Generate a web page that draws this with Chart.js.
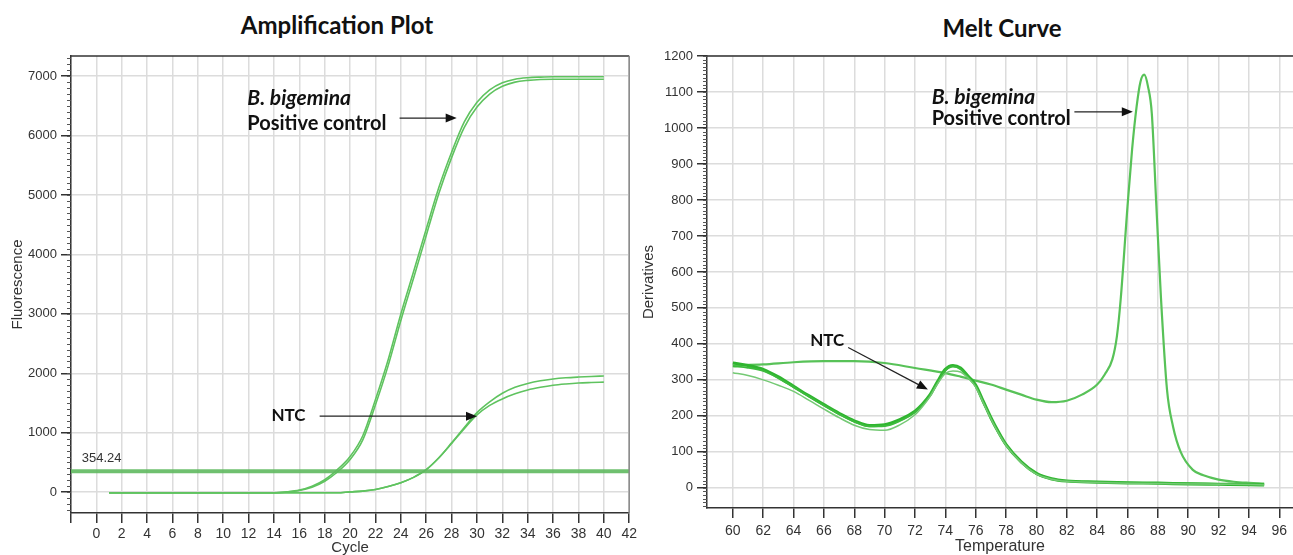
<!DOCTYPE html>
<html>
<head>
<meta charset="utf-8">
<script src="https://cdn.jsdelivr.net/npm/chart.js@4.4.0/dist/chart.umd.min.js"></script>
<style>
  html, body { margin: 0; padding: 0; background: #fff; }
  body { width: 1293px; height: 555px; position: relative; overflow: hidden; }
  .title { position: absolute; top: 11px; font-family: Lato, sans-serif; font-weight: bold; font-size: 24px; line-height: 28px; color: #111; transform: translateX(-50%); white-space: nowrap; }
  #amp-chart { position: absolute; left: 0; top: 0; }
  #melt-chart { position: absolute; left: 640px; top: 0; }
</style>
</head>
<body>
<div class="title" style="left:337px">Amplification Plot</div>
<div class="title" style="left:1002px; top:14px">Melt Curve</div>
<canvas id="amp-chart" width="640" height="555"></canvas>
<canvas id="melt-chart" width="653" height="555"></canvas>
<script>
// ---- Amplification plot data (fluorescence per cycle) ----
const cycles = [1,2,3,4,5,6,7,8,9,10,11,12,13,14,15,16,17,18,19,20,
                21,22,23,24,25,26,27,28,29,30,31,32,33,34,35,36,37,38,39,40];
const posCtrlA = [-10,-10,-10,-10,-10,-10,-10,-10,-10,-10,-10,-10,-10,-10,5,35,100,210,380,600,
                  950,1560,2230,3000,3710,4430,5130,5720,6230,6560,6770,6890,6950,6975,6985,6990,6990,6990,6990,6990];
const posCtrlB = [-10,-10,-10,-10,-10,-10,-10,-10,-10,-10,-10,-10,-10,-10,3,28,85,185,340,550,
                  880,1470,2130,2890,3600,4320,5030,5630,6140,6480,6700,6830,6900,6930,6945,6950,6950,6950,6950,6950];
const ntcAmpA = [-10,-10,-10,-10,-10,-10,-10,-10,-10,-10,-10,-10,-10,-10,-10,-10,-10,-10,-10,5,
                 18,45,95,160,250,380,580,830,1090,1340,1520,1665,1765,1830,1875,1905,1925,1938,1948,1955];
const ntcAmpB = [-10,-10,-10,-10,-10,-10,-10,-10,-10,-10,-10,-10,-10,-10,-10,-10,-10,-10,-10,5,
                 18,45,95,160,250,380,580,820,1070,1300,1460,1570,1655,1720,1765,1800,1822,1838,1846,1852];
const thresholdValue = 354.24;
const ampYTicks = [0,1000,2000,3000,4000,5000,6000,7000];
const ampXTicks = [-2,0,2,4,6,8,10,12,14,16,18,20,22,24,26,28,30,32,34,36,38,40,42];

// ---- Melt curve data (derivative vs temperature) ----
const ntcTemps = [60,61,62,63,64,65,66,67,68,69,70,71,72,72.5,73,73.5,74,74.5,75,75.5,
                  76,76.5,77,77.5,78,79,80,81,82,84,86,88,90,92,94,95];
const ntcMeltA = [347,340,329,308,282,256,231,207,186,173,175,189,213,233,259,296,329,340,333,310,
                  285,240,195,155,120,72,40,25,19,16,14,13,11,10,9,8];
const ntcMeltB = [338,334,325,305,280,254,229,205,184,171,172,186,210,231,258,294,326,337,330,308,
                  283,238,193,153,119,71,39,25,19,16,14,13,12,11,10,9];
const ntcMeltC = [320,312,300,285,268,244,219,195,174,162,160,175,203,226,254,290,318,325,322,305,
                  280,236,192,152,118,70,38,24,18,15,13,12,11,10,9,8];
const posTemps = [60,62,64,66,68,70,72,74,75,76,77,78,79,80,81,82,83,84,84.5,85,
                  85.3,85.55,86,86.3,86.6,86.85,87.1,87.35,87.6,87.9,88.2,88.6,89,89.5,90.3,91,92,93,94,95];
const posMelt = [340,343,349,352,352,347,333,319,309,298,287,273,259,245,238,242,259,287,315,357,
                 421,524,783,940,1060,1128,1148,1115,1040,783,530,273,170,100,50,35,23,17,14,12];
const meltYTicks = [0,100,200,300,400,500,600,700,800,900,1000,1100,1200];
const meltXTicks = [60,62,64,66,68,70,72,74,76,78,80,82,84,86,88,90,92,94,96];

const pts = (xs, ys) => xs.map((x, i) => ({ x: x, y: ys[i] }));

// minor y ticks, plot frame, labels and arrows
const decor = {
  id: 'decor',
  afterDraw(chart, args, o) {
    const ctx = chart.ctx, a = chart.chartArea;
    const xs = chart.scales.x, ys = chart.scales.y;
    ctx.save();
    ctx.strokeStyle = '#555';
    ctx.lineWidth = 1;
    ctx.beginPath();
    for (let v = Math.ceil(ys.min / o.minorStep) * o.minorStep; v <= ys.max; v += o.minorStep) {
      const py = Math.round(ys.getPixelForValue(v)) + 0.5;
      ctx.moveTo(a.left - 4, py);
      ctx.lineTo(a.left, py);
    }
    ctx.stroke();

    ctx.strokeStyle = '#333';
    ctx.lineWidth = 1.5;
    ctx.beginPath();
    ctx.moveTo(a.left, a.top);
    ctx.lineTo(a.right, a.top);
    ctx.stroke();
    if (o.rightBorder) {
      ctx.strokeStyle = '#8a8a8a';
      ctx.beginPath();
      ctx.moveTo(a.right, a.top);
      ctx.lineTo(a.right, a.bottom);
      ctx.stroke();
    }

    o.notes.forEach(n => {
      ctx.font = n.font;
      ctx.fillStyle = n.color || '#111';
      ctx.textAlign = 'left';
      ctx.textBaseline = 'middle';
      ctx.fillText(n.text, xs.getPixelForValue(n.x), ys.getPixelForValue(n.y));
    });

    ctx.strokeStyle = '#222';
    ctx.fillStyle = '#111';
    ctx.lineWidth = 1.2;
    o.arrows.forEach(ar => {
      const x1 = xs.getPixelForValue(ar.from[0]), y1 = ys.getPixelForValue(ar.from[1]);
      const x2 = xs.getPixelForValue(ar.to[0]), y2 = ys.getPixelForValue(ar.to[1]);
      const ang = Math.atan2(y2 - y1, x2 - x1);
      const c = Math.cos(ang), s = Math.sin(ang);
      ctx.beginPath();
      ctx.moveTo(x1, y1);
      ctx.lineTo(x2 - 9 * c, y2 - 9 * s);
      ctx.stroke();
      ctx.beginPath();
      ctx.moveTo(x2, y2);
      ctx.lineTo(x2 - 11 * c + 4.5 * s, y2 - 11 * s - 4.5 * c);
      ctx.lineTo(x2 - 11 * c - 4.5 * s, y2 - 11 * s + 4.5 * c);
      ctx.closePath();
      ctx.fill();
    });
    ctx.restore();
  }
};

const tickFont = { family: 'Liberation Sans', size: 14 };
const gridStyle = { color: '#dcdcdc', lineWidth: 1.5, tickColor: '#333', tickLength: 10, tickWidth: 1.5 };
const line = (data, color, width) => ({
  data: data, borderColor: color, borderWidth: width, pointRadius: 0,
  fill: false, cubicInterpolationMode: 'monotone'
});

new Chart(document.getElementById('amp-chart'), {
  type: 'line',
  data: {
    datasets: [
      line([{ x: -2, y: thresholdValue }, { x: 42, y: thresholdValue }], 'rgba(95,185,95,0.9)', 4),
      line(pts(cycles, posCtrlA), '#5fc35f', 1.6),
      line(pts(cycles, posCtrlB), '#5fc35f', 1.6),
      line(pts(cycles, ntcAmpA), '#5fc35f', 1.6),
      line(pts(cycles, ntcAmpB), '#5fc35f', 1.6)
    ]
  },
  options: {
    responsive: false,
    animation: false,
    layout: { padding: { top: 56, right: 10, left: 0, bottom: 0 } },
    plugins: {
      legend: { display: false },
      tooltip: { enabled: false },
      decor: {
        minorStep: 100,
        rightBorder: true,
        notes: [
          { text: 'B. bigemina', x: 11.9, y: 6633, font: 'italic bold 21px Lato' },
          { text: 'Positive control', x: 11.9, y: 6195, font: 'bold 20px Lato' },
          { text: 'NTC', x: 13.8, y: 1296, font: 'bold 17px Lato' },
          { text: thresholdValue.toFixed(2), x: -1.15, y: 560, font: '13px "Liberation Sans"', color: '#333' }
        ],
        arrows: [
          { from: [23.9, 6296], to: [28.4, 6296] },
          { from: [17.6, 1279], to: [30.0, 1279] }
        ]
      }
    },
    scales: {
      x: {
        type: 'linear', min: -2, max: 42,
        afterBuildTicks: s => { s.ticks = ampXTicks.map(v => ({ value: v })); },
        afterFit: s => { s.height = 42; },
        grid: gridStyle,
        border: { color: '#333', width: 1.5 },
        ticks: { font: tickFont, color: '#333', padding: 3, maxRotation: 0,
                 callback: v => (v < 0 ? '' : String(v)) },
        title: { display: true, text: 'Cycle', color: '#333',
                 font: { family: 'Liberation Sans', size: 15, lineHeight: 1 }, padding: 0 }
      },
      y: {
        min: -350, max: 7340,
        afterBuildTicks: s => { s.ticks = ampYTicks.map(v => ({ value: v })); },
        afterFit: s => { s.width = 71; },
        grid: gridStyle,
        border: { color: '#333', width: 1.5 },
        ticks: { font: { family: 'Liberation Sans', size: 13 }, color: '#333', padding: 4,
                 callback: v => String(v) },
        title: { display: true, text: 'Fluorescence', color: '#333',
                 font: { family: 'Liberation Sans', size: 15 }, padding: { top: 9, bottom: 0 } }
      }
    }
  },
  plugins: [decor]
});

new Chart(document.getElementById('melt-chart'), {
  type: 'line',
  data: {
    datasets: [
      line(pts(ntcTemps, ntcMeltC), '#74c974', 1.5),
      line(pts(ntcTemps, ntcMeltB), '#3cbb3c', 2),
      line(pts(ntcTemps, ntcMeltA), '#2fb52f', 3.2),
      line(pts(posTemps, posMelt), '#58c258', 2.2)
    ]
  },
  options: {
    responsive: false,
    animation: false,
    layout: { padding: { top: 56, right: 0, left: 0, bottom: 0 } },
    plugins: {
      legend: { display: false },
      tooltip: { enabled: false },
      decor: {
        minorStep: 10,
        rightBorder: false,
        notes: [
          { text: 'B. bigemina', x: 73.1, y: 1086, font: 'italic bold 21px Lato' },
          { text: 'Positive control', x: 73.1, y: 1025, font: 'bold 20px Lato' },
          { text: 'NTC', x: 65.1, y: 409, font: 'bold 17px Lato' }
        ],
        arrows: [
          { from: [82.5, 1045], to: [86.35, 1045] },
          { from: [67.6, 390], to: [72.85, 273] }
        ]
      }
    },
    scales: {
      x: {
        type: 'linear', min: 58.3, max: 96.9,
        afterBuildTicks: s => { s.ticks = meltXTicks.map(v => ({ value: v })); },
        afterFit: s => { s.height = 47; },
        grid: gridStyle,
        border: { color: '#333', width: 1.5 },
        ticks: { font: tickFont, color: '#333', padding: 5, maxRotation: 0,
                 callback: v => String(v) },
        title: { display: true, text: 'Temperature', color: '#333',
                 font: { family: 'Liberation Sans', size: 16, lineHeight: 1 }, padding: 0 }
      },
      y: {
        min: -56, max: 1200,
        afterBuildTicks: s => { s.ticks = meltYTicks.map(v => ({ value: v })); },
        afterFit: s => { s.width = 67; },
        grid: gridStyle,
        border: { color: '#333', width: 1.5 },
        ticks: { font: { family: 'Liberation Sans', size: 13 }, color: '#333', padding: 4,
                 callback: v => String(v) },
        title: { display: true, text: 'Derivatives', color: '#333',
                 font: { family: 'Liberation Sans', size: 15 }, padding: { top: 0, bottom: 0 } }
      }
    }
  },
  plugins: [decor]
});
</script>
</body>
</html>
